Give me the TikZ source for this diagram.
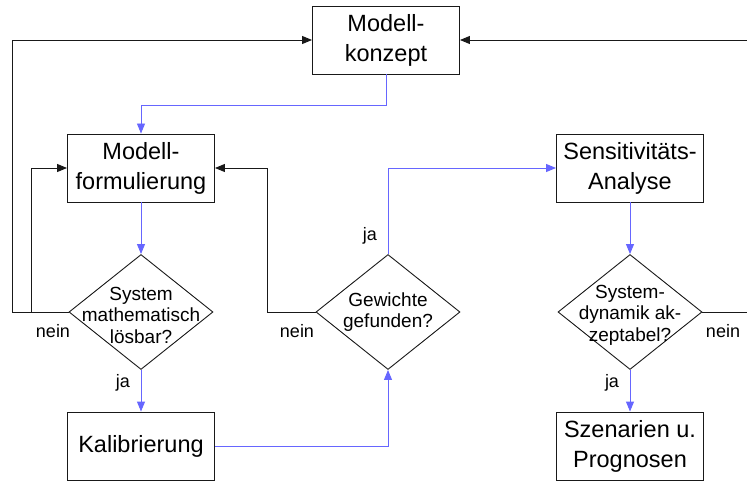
\documentclass[tikz,border=0pt]{standalone}
\usepackage{fontspec}
\setmainfont{Liberation Sans}
\usetikzlibrary{shapes.geometric,arrows.meta}
\definecolor{flowblue}{RGB}{102,102,255}
\definecolor{linegray}{RGB}{25,25,25}
\tikzset{
  box/.style={draw=linegray, line width=0.9pt, minimum width=147pt, minimum height=68pt,
    inner sep=0pt, align=center, font=\fontsize{23.5}{30}\selectfont},
  dia/.style={draw=linegray, line width=0.9pt, diamond, minimum width=144pt, minimum height=115pt,
    inner sep=0pt},
  diatext/.style={align=center, inner sep=0pt, font=\fontsize{19}{21.5}\selectfont},
  lbl/.style={inner sep=0pt, font=\fontsize{18}{21}\selectfont},
  yes/.style={draw=flowblue, line width=0.9pt, -{Triangle[length=10pt,width=8pt]}},
  no/.style={draw=linegray, line width=0.9pt, -{Triangle[length=10pt,width=8pt]}},
}
\begin{document}
\begin{tikzpicture}[x=1pt,y=-1pt]
\useasboundingbox (0,0) rectangle (747,481);
% boxes
\node[box] (konzept) at (386,40) {Modell-\\konzept};
\node[box] (formul) at (141,168) {Modell-\\formulierung};
\node[box] (kalib) at (141,446) {Kalibrierung};
\node[box] (sens) at (630,168) {Sensitivitäts-\\Analyse};
\node[box] (szen) at (630,446) {Szenarien u.\\Prognosen};
% diamonds
\node[dia] (d1) at (141,312) {};
\node[diatext] (d1t) at (141,315) {System\\mathematisch\\lösbar?};
\node[dia] (d2) at (388,312) {};
\node[diatext] (d2t) at (388,312) {Gewichte\\gefunden?};
\node[dia] (d3) at (630,312) {};
\node[diatext] (d3t) at (630,315) {System-\\dynamik ak-\\zeptabel?};
% labels
\node[lbl] (l1) at (53,331) {nein};
\node[lbl] (l2) at (123,383) {ja};
\node[lbl] (l3) at (297,331) {nein};
\node[lbl] (l4) at (370,236) {ja};
\node[lbl] (l5) at (723,331) {nein};
\node[lbl] (l6) at (612,383) {ja};
% coordinates
\coordinate (lout) at (12,312);
\coordinate (lin) at (31,312);
\coordinate (rout) at (749,312);
% blue flow
\draw[yes] (konzept.south) -- (konzept.south |- 0,105) -- (141,105) -- (formul.north);
\draw[yes] (formul.south) -- (d1.north);
\draw[yes] (d1.south) -- (kalib.north);
\draw[yes] (kalib.east) -- (d2.south |- kalib.east) -- (d2.south);
\draw[yes] (d2.north) -- (d2.north |- sens.west) -- (sens.west);
\draw[yes] (sens.south) -- (d3.north);
\draw[yes] (d3.south) -- (szen.north);
% black loops
\draw[no] (d1.west) -- (lout) -- (lout |- konzept.west) -- (konzept.west);
\draw[no] (lin) -- (lin |- formul.west) -- (formul.west);
\draw[no] (d2.west) -- (267,312) -- (267,168) -- (formul.east);
\draw[no] (d3.east) -- (rout) -- (rout |- konzept.east) -- (konzept.east);
\end{tikzpicture}
\end{document}
